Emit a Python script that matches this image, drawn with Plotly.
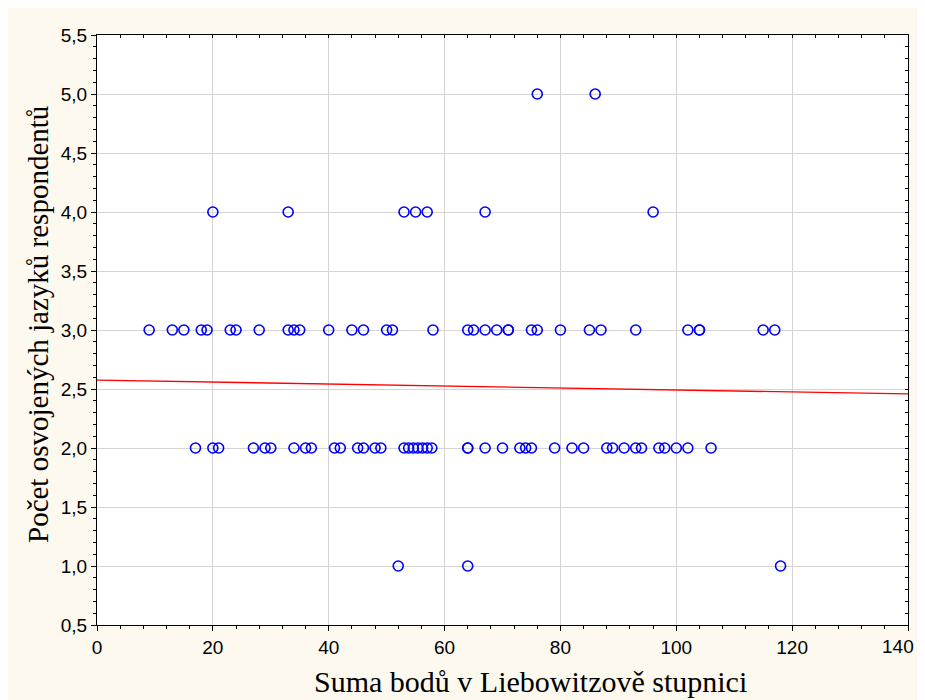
import plotly.graph_objects as go

# Data (x = sum of points, y = number of languages)
x_lang1 = [52, 64, 118]
x_lang2 = [17, 20, 21, 27, 29, 30, 34, 36, 37, 41, 42, 45, 46, 48, 49,
           53, 53.8, 54.6, 55.4, 56.2, 57, 57.8, 64, 64, 67, 70, 73, 74, 75,
           79, 82, 84, 88, 89, 91, 93, 94, 97, 98, 100, 102, 106]
x_lang3 = [9, 13, 15, 18, 19, 23, 24, 28, 33, 34, 35, 40, 44, 46, 50, 51,
           58, 64, 65, 67, 69, 71, 71, 75, 76, 80, 85, 87, 93, 102, 104, 104,
           115, 117]
x_lang4 = [20, 33, 53, 55, 57, 67, 96]
x_lang5 = [76, 86]

fit_x = [0, 140]
fit_y = [2.576, 2.458]

x_ticks = [0, 20, 40, 60, 80, 100, 120, 140]
y_ticks = [0.5, 1.0, 1.5, 2.0, 2.5, 3.0, 3.5, 4.0, 4.5, 5.0, 5.5]

x_title = "Suma bodů v Liebowitzově stupnici"
y_title = "Počet osvojených jazyků respondentů"

xs, ys = [], []
for level, vals in [(1, x_lang1), (2, x_lang2), (3, x_lang3), (4, x_lang4), (5, x_lang5)]:
    xs += vals
    ys += [level] * len(vals)

fig = go.Figure()
fig.add_trace(go.Scatter(
    x=xs, y=ys, mode="markers",
    marker=dict(symbol="circle-open", size=10, color="#0000FF",
                line=dict(width=1.6, color="#0000FF")),
    showlegend=False, hoverinfo="skip", cliponaxis=False))
fig.add_trace(go.Scatter(
    x=fit_x, y=fit_y, mode="lines",
    line=dict(color="#FF0000", width=1.3),
    showlegend=False, hoverinfo="skip"))
# invisible trace to activate mirror axes
fig.add_trace(go.Scatter(x=[None], y=[None], xaxis="x2", yaxis="y2",
                         showlegend=False, hoverinfo="skip"))

W, H = 917, 692
L, R, T, B = 89, 17, 27, 75
PW, PH = W - L - R, H - T - B

tickfont = dict(family="Liberation Sans, Arial, sans-serif", size=19, color="#000000")
xtitlefont = dict(family="Liberation Serif, Times New Roman, serif", size=30, color="#000000")
ytitlefont = dict(family="Liberation Serif, Times New Roman, serif", size=29, color="#000000")

# the last tick label sits at the right edge: draw it right-aligned so it stays visible
x_ticktext = [str(v) for v in x_ticks[:-1]] + [""]

fig.update_layout(
    width=W, height=H,
    margin=dict(l=L, r=R, t=T, b=B, autoexpand=False),
    paper_bgcolor="#FDF9EE",
    plot_bgcolor="#FFFFFF",
    separators=", ",
    xaxis=dict(
        range=[0, 140], tickvals=x_ticks, ticktext=x_ticktext, automargin=False,
        ticklabeloverflow="allow",
        showgrid=True, gridcolor="#D4D4D4", gridwidth=1,
        zeroline=False, showline=True, linecolor="#000000", linewidth=1,
        ticks="outside", ticklen=5, tickcolor="#000000",
        minor=dict(dtick=4, tick0=0, ticks="outside", ticklen=3, tickcolor="#000000", showgrid=False),
        tickfont=tickfont,
    ),
    yaxis=dict(
        range=[0.5, 5.5], tickvals=y_ticks, tickformat=".1f", automargin=False,
        ticklabeloverflow="allow",
        showgrid=True, gridcolor="#D4D4D4", gridwidth=1,
        zeroline=False, showline=True, linecolor="#000000", linewidth=1,
        ticks="outside", ticklen=5, tickcolor="#000000",
        minor=dict(dtick=0.1, tick0=0.5, ticks="outside", ticklen=3, tickcolor="#000000", showgrid=False),
        tickfont=tickfont,
    ),
    xaxis2=dict(
        overlaying="x", side="top", anchor="y2", range=[0, 140], automargin=False,
        showgrid=False, zeroline=False, showline=True, linecolor="#000000", linewidth=1,
        ticks="inside", tickvals=list(range(0, 141, 4)), ticklen=3, tickcolor="#000000",
        showticklabels=False,
    ),
    yaxis2=dict(
        overlaying="y", side="right", anchor="x2", range=[0.5, 5.5], automargin=False,
        showgrid=False, zeroline=False, showline=True, linecolor="#000000", linewidth=1,
        ticks="inside", tickvals=[round(0.5 + 0.1 * i, 1) for i in range(51)], ticklen=3,
        tickcolor="#000000", showticklabels=False,
    ),
    annotations=[
        dict(text=str(x_ticks[-1]), xref="paper", yref="paper", x=(908 - L) / PW, y=-21 / PH,
             xanchor="right", yanchor="middle", showarrow=False, font=tickfont),
        dict(text=x_title, xref="paper", yref="paper", x=(530 - 97) / PW, y=-56 / PH,
             xanchor="center", yanchor="middle", showarrow=False, font=xtitlefont),
        dict(text=y_title, xref="paper", yref="paper", x=-59 / PW, y=300 / PH,
             xanchor="center", yanchor="middle", textangle=-90, showarrow=False, font=ytitlefont),
    ],
)

fig.write_html("out.html")
